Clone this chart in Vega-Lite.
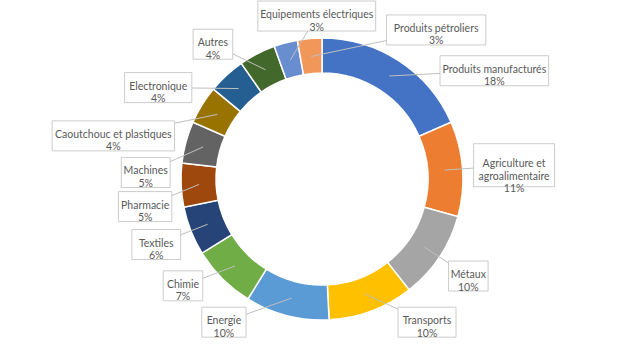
{
  "$schema": "https://vega.github.io/schema/vega-lite/v6.json",
  "width": 624,
  "height": 332,
  "autosize": "none",
  "padding": {"left": 10, "top": 13, "right": 0, "bottom": 0},
  "background": "white",
  "config": {"view": {"stroke": null}},
  "data": {
    "values": [
      {"cat": "Produits manufacturés", "v": 18.4},
      {"cat": "Agriculture et agroalimentaire", "v": 10.9},
      {"cat": "Métaux", "v": 10.1},
      {"cat": "Transports", "v": 9.8},
      {"cat": "Energie", "v": 9.6},
      {"cat": "Chimie", "v": 7.4},
      {"cat": "Textiles", "v": 5.6},
      {"cat": "Pharmacie", "v": 5.0},
      {"cat": "Machines", "v": 4.8},
      {"cat": "Caoutchouc et plastiques", "v": 4.4},
      {"cat": "Electronique", "v": 4.3},
      {"cat": "Autres", "v": 4.2},
      {"cat": "Equipements électriques", "v": 2.7},
      {"cat": "Produits pétroliers", "v": 2.8}
    ]
  },
  "transform": [
    {"window": [{"op": "row_number", "as": "idx"}]},
    {"joinaggregate": [{"op": "sum", "field": "v", "as": "total"}]},
    {"window": [{"op": "sum", "field": "v", "as": "cum"}], "sort": [{"field": "idx"}], "frame": [null, 0]},
    {"calculate": "(datum.cum - datum.v/2)/datum.total*2*PI", "as": "mid"},
    {"calculate": "format(datum.v/datum.total, '.0%')", "as": "pct"},
    {"calculate": "length(datum.cat) > 26 ? replace(datum.cat, ' et ', ' et\\n') : datum.cat", "as": "name2"},
    {"calculate": "datum.name2 + '\\n' + datum.pct", "as": "label"},
    {"calculate": "length(datum.cat) > 26 ? max(indexof(datum.cat, ' et ') + 3, length(datum.cat) - indexof(datum.cat, ' et ') - 4) : length(datum.cat)", "as": "nch"},
    {"calculate": "datum.nch*4.6 + 12", "as": "w"},
    {"calculate": "(length(datum.cat) > 26 ? 3 : 2)*13 + 4", "as": "h"},
    {"calculate": "datum.mid < PI ? datum.mid + 2*PI : datum.mid", "as": "u"},
    {"window": [{"op": "lag", "field": "u", "as": "pu"}, {"op": "lag", "field": "w", "as": "pw"}, {"op": "lag", "field": "h", "as": "ph"}], "sort": [{"field": "u"}]},
    {"calculate": "abs(sin((datum.u+datum.pu)/2))", "as": "sm"},
    {"calculate": "abs(cos((datum.u+datum.pu)/2))", "as": "cm"},
    {"calculate": "datum.pu == null ? 0 : min(((datum.w+datum.pw)/2 + 8)/(datum.cm*(152 + (datum.sm < 0.3 ? (datum.w+datum.pw)/4/0.5 : 0))), ((datum.h+datum.ph)/2 + 4)/(datum.sm*(148 + (datum.cm < 0.5 ? (datum.h+datum.ph)/4/0.5 : 0))))", "as": "gap"},
    {"window": [{"op": "sum", "field": "gap", "as": "D"}], "sort": [{"field": "u"}], "frame": [null, 0]},
    {"calculate": "datum.u - datum.D", "as": "k"},
    {"window": [{"op": "row_number", "as": "r"}], "sort": [{"field": "u"}]},
    {"window": [{"op": "sum", "field": "k", "as": "S"}], "sort": [{"field": "u"}], "frame": [null, 0]},
    {"calculate": "datum.S - datum.k", "as": "S0"},
    {"joinaggregate": [{"op": "max", "field": "D", "as": "Dmax"}]},
    {"joinaggregate": [{"op": "values", "field": "k", "as": "A"}]},
    {"calculate": "datum.A", "as": "B"},
    {"flatten": ["A"]},
    {"calculate": "datum.A.r", "as": "jr"},
    {"calculate": "datum.A.S0", "as": "jS"},
    {"filter": "datum.jr <= datum.r"},
    {"flatten": ["B"]},
    {"calculate": "datum.B.r", "as": "lr"},
    {"calculate": "datum.B.S", "as": "lS"},
    {"filter": "datum.lr >= datum.r"},
    {"calculate": "(datum.lS - datum.jS)/(datum.lr - datum.jr + 1)", "as": "m"},
    {"joinaggregate": [{"op": "min", "field": "m", "as": "mn"}], "groupby": ["r", "jr"]},
    {"filter": "datum.lr == datum.r"},
    {"joinaggregate": [{"op": "max", "field": "mn", "as": "z"}], "groupby": ["r"]},
    {"filter": "datum.jr == datum.r"},
    {"calculate": "datum.D + min(3*PI - PI/6 - datum.Dmax, max(PI + PI/6, datum.z))", "as": "lab"},
    {"calculate": "152*sin(datum.lab) + datum.w/2*clamp(sin(datum.lab)/0.35, -1, 1)", "as": "lx"},
    {"calculate": "148*cos(datum.lab) + datum.h/2*clamp(cos(datum.lab)/0.5, -1, 1)", "as": "ly"},
    {"calculate": "datum.lx - datum.w/2", "as": "bx1"},
    {"calculate": "datum.lx + datum.w/2", "as": "bx2"},
    {"calculate": "datum.ly - datum.h/2", "as": "by1"},
    {"calculate": "datum.ly + datum.h/2", "as": "by2"},
    {"calculate": "123*sin(datum.mid)", "as": "px"},
    {"calculate": "123*cos(datum.mid)", "as": "py"}
  ],
  "layer": [
    {
      "mark": {"type": "arc", "outerRadius": 141, "innerRadius": 106, "stroke": "white", "strokeWidth": 1.5},
      "encoding": {
        "theta": {"field": "v", "type": "quantitative", "stack": true},
        "order": {"field": "idx", "type": "quantitative"},
        "color": {
          "field": "cat",
          "type": "nominal",
          "sort": null,
          "legend": null,
          "scale": {
            "domain": ["Produits manufacturés", "Agriculture et agroalimentaire", "Métaux", "Transports", "Energie", "Chimie", "Textiles", "Pharmacie", "Machines", "Caoutchouc et plastiques", "Electronique", "Autres", "Equipements électriques", "Produits pétroliers"],
            "range": ["#4472C4", "#ED7D31", "#A5A5A5", "#FFC000", "#5B9BD5", "#70AD47", "#264478", "#9E480E", "#636363", "#997300", "#255E91", "#43682B", "#698ED0", "#F1975A"]
          }
        }
      }
    },
    {
      "mark": {"type": "rule", "color": "#BFBFBF", "strokeWidth": 1},
      "encoding": {
        "x": {"field": "px", "type": "quantitative", "scale": {"domain": [-312, 312], "nice": false, "zero": false}, "axis": null},
        "y": {"field": "py", "type": "quantitative", "scale": {"domain": [-166, 166], "nice": false, "zero": false}, "axis": null},
        "x2": {"field": "lx"},
        "y2": {"field": "ly"}
      }
    },
    {
      "mark": {"type": "rect", "fill": "white", "stroke": "#BFBFBF", "strokeWidth": 0.8},
      "encoding": {
        "x": {"field": "bx1", "type": "quantitative", "axis": null},
        "x2": {"field": "bx2"},
        "y": {"field": "by1", "type": "quantitative", "axis": null},
        "y2": {"field": "by2"}
      }
    },
    {
      "mark": {"type": "text", "lineBreak": "\n", "align": "center", "baseline": "middle", "dy": -1, "font": "Lato", "fontSize": 10.5, "lineHeight": 12.5, "color": "#595959"},
      "encoding": {
        "x": {"field": "lx", "type": "quantitative", "axis": null},
        "y": {"field": "ly", "type": "quantitative", "axis": null},
        "text": {"field": "label"}
      }
    }
  ]
}
